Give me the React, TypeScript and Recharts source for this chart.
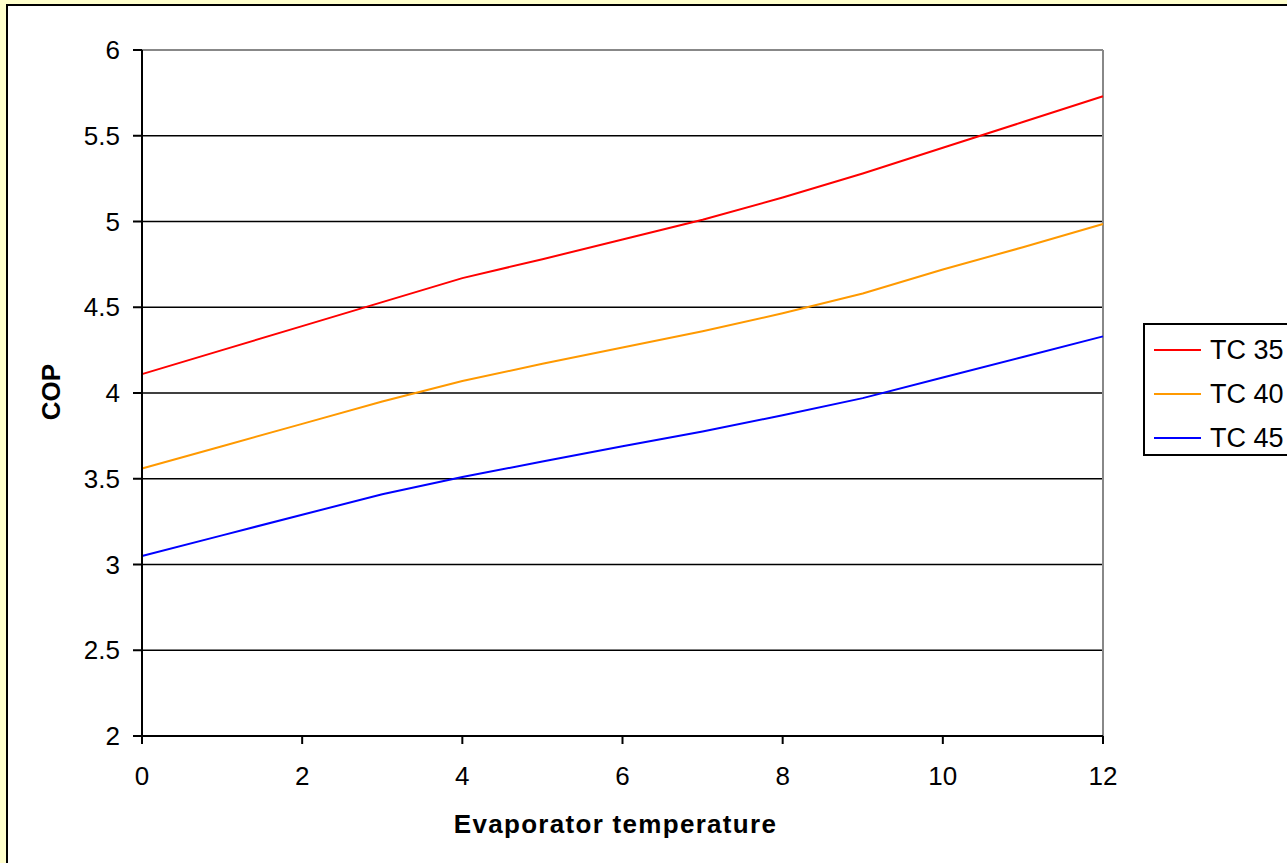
import { LineChart, Line, XAxis, YAxis, CartesianGrid, ReferenceLine, Legend } from 'recharts';

const evapTemps = [0, 1, 2, 3, 4, 5, 6, 7, 8, 9, 10, 11, 12];
const tc35 = [4.11, 4.25, 4.39, 4.53, 4.67, 4.78, 4.895, 5.01, 5.14, 5.28, 5.43, 5.58, 5.73];
const tc40 = [3.56, 3.69, 3.82, 3.95, 4.07, 4.17, 4.265, 4.36, 4.465, 4.58, 4.72, 4.85, 4.985];
const tc45 = [3.05, 3.17, 3.29, 3.41, 3.51, 3.6, 3.69, 3.775, 3.87, 3.97, 4.09, 4.21, 4.33];

const xTicks = [0, 2, 4, 6, 8, 10, 12];
const yTicks = [2, 2.5, 3, 3.5, 4, 4.5, 5, 5.5, 6];

const seriesNames = ['TC 35', 'TC 40', 'TC 45'];
const seriesColors = ['#FF0000', '#FF9900', '#0000FF'];

const data = evapTemps.map((t, i) => ({
  t,
  tc35: tc35[i],
  tc40: tc40[i],
  tc45: tc45[i],
}));

const FONT = '"Liberation Sans", Arial, sans-serif';

// boxed legend, Excel style
const LegendBox = ({ payload }: any) => (
  <div
    style={{
      border: '2px solid #000',
      background: '#fff',
      width: 160,
      height: 129,
      boxSizing: 'content-box',
      fontFamily: FONT,
    }}
  >
    {(payload ?? []).map((p: any, i: number) => (
      <div key={i} style={{ display: 'flex', alignItems: 'center', height: 44, marginTop: i === 0 ? 3 : 0 }}>
        <svg width={56} height={10} style={{ marginLeft: 9 }}>
          <line x1={0} y1={5} x2={47} y2={5} stroke={p.color} strokeWidth={2} />
        </svg>
        <span style={{ fontSize: 27, color: '#000', lineHeight: '27px' }}>{p.value}</span>
      </div>
    ))}
  </div>
);

export default function App() {
  const keys = ['tc35', 'tc40', 'tc45'];
  return (
    <div style={{ position: 'fixed', left: 0, top: 0, width: 1287, height: 863, overflow: 'hidden', background: '#FFFFCC' }}>
      <div
        style={{
          position: 'absolute',
          left: 6,
          top: 4,
          width: 1300,
          height: 880,
          border: '2px solid #000',
          background: '#fff',
        }}
      />
      <div style={{ position: 'absolute', left: 0, top: 0 }}>
        <LineChart
          width={1287}
          height={863}
          data={data}
          margin={{ top: 50, right: 184, bottom: 0, left: 0 }}
        >
          <CartesianGrid vertical={false} stroke="#000" strokeWidth={1.5} />
          <ReferenceLine y={6} stroke="#888" strokeWidth={2} />
          <ReferenceLine x={12} stroke="#888" strokeWidth={2} />
          <XAxis
            dataKey="t"
            type="number"
            domain={[0, 12]}
            ticks={xTicks}
            height={127}
            stroke="#000"
            strokeWidth={2}
            tickSize={8}
            tickMargin={23}
            tick={{ fontSize: 26, fill: '#000', fontFamily: FONT }}
            label={{
              content: ({ viewBox }: any) => (
                <text
                  x={viewBox.x + viewBox.width / 2 - 7}
                  y={833}
                  textAnchor="middle"
                  fontSize={26}
                  fontWeight="bold"
                  fontFamily={FONT}
                  letterSpacing={1.3}
                  fill="#000"
                >
                  Evaporator temperature
                </text>
              ),
            }}
          />
          <YAxis
            type="number"
            domain={[2, 6]}
            ticks={yTicks}
            width={142}
            stroke="#000"
            strokeWidth={2}
            tickSize={9}
            tickMargin={13}
            tick={{ fontSize: 26, fill: '#000', fontFamily: FONT }}
            label={{
              content: () => (
                <text
                  x={60}
                  y={392}
                  transform="rotate(-90 60 392)"
                  textAnchor="middle"
                  fontSize={26}
                  fontWeight="bold"
                  fontFamily={FONT}
                  fill="#000"
                >
                  COP
                </text>
              ),
            }}
          />
          <Legend
            layout="vertical"
            align="center"
            verticalAlign="middle"
            content={<LegendBox />}
            wrapperStyle={{ position: 'absolute', left: 1143, top: 323, width: 200 }}
          />
          {keys.map((k, i) => (
            <Line
              key={k}
              dataKey={k}
              name={seriesNames[i]}
              type="linear"
              stroke={seriesColors[i]}
              strokeWidth={2}
              dot={false}
              activeDot={false}
              isAnimationActive={false}
            />
          ))}
        </LineChart>
      </div>
    </div>
  );
}
